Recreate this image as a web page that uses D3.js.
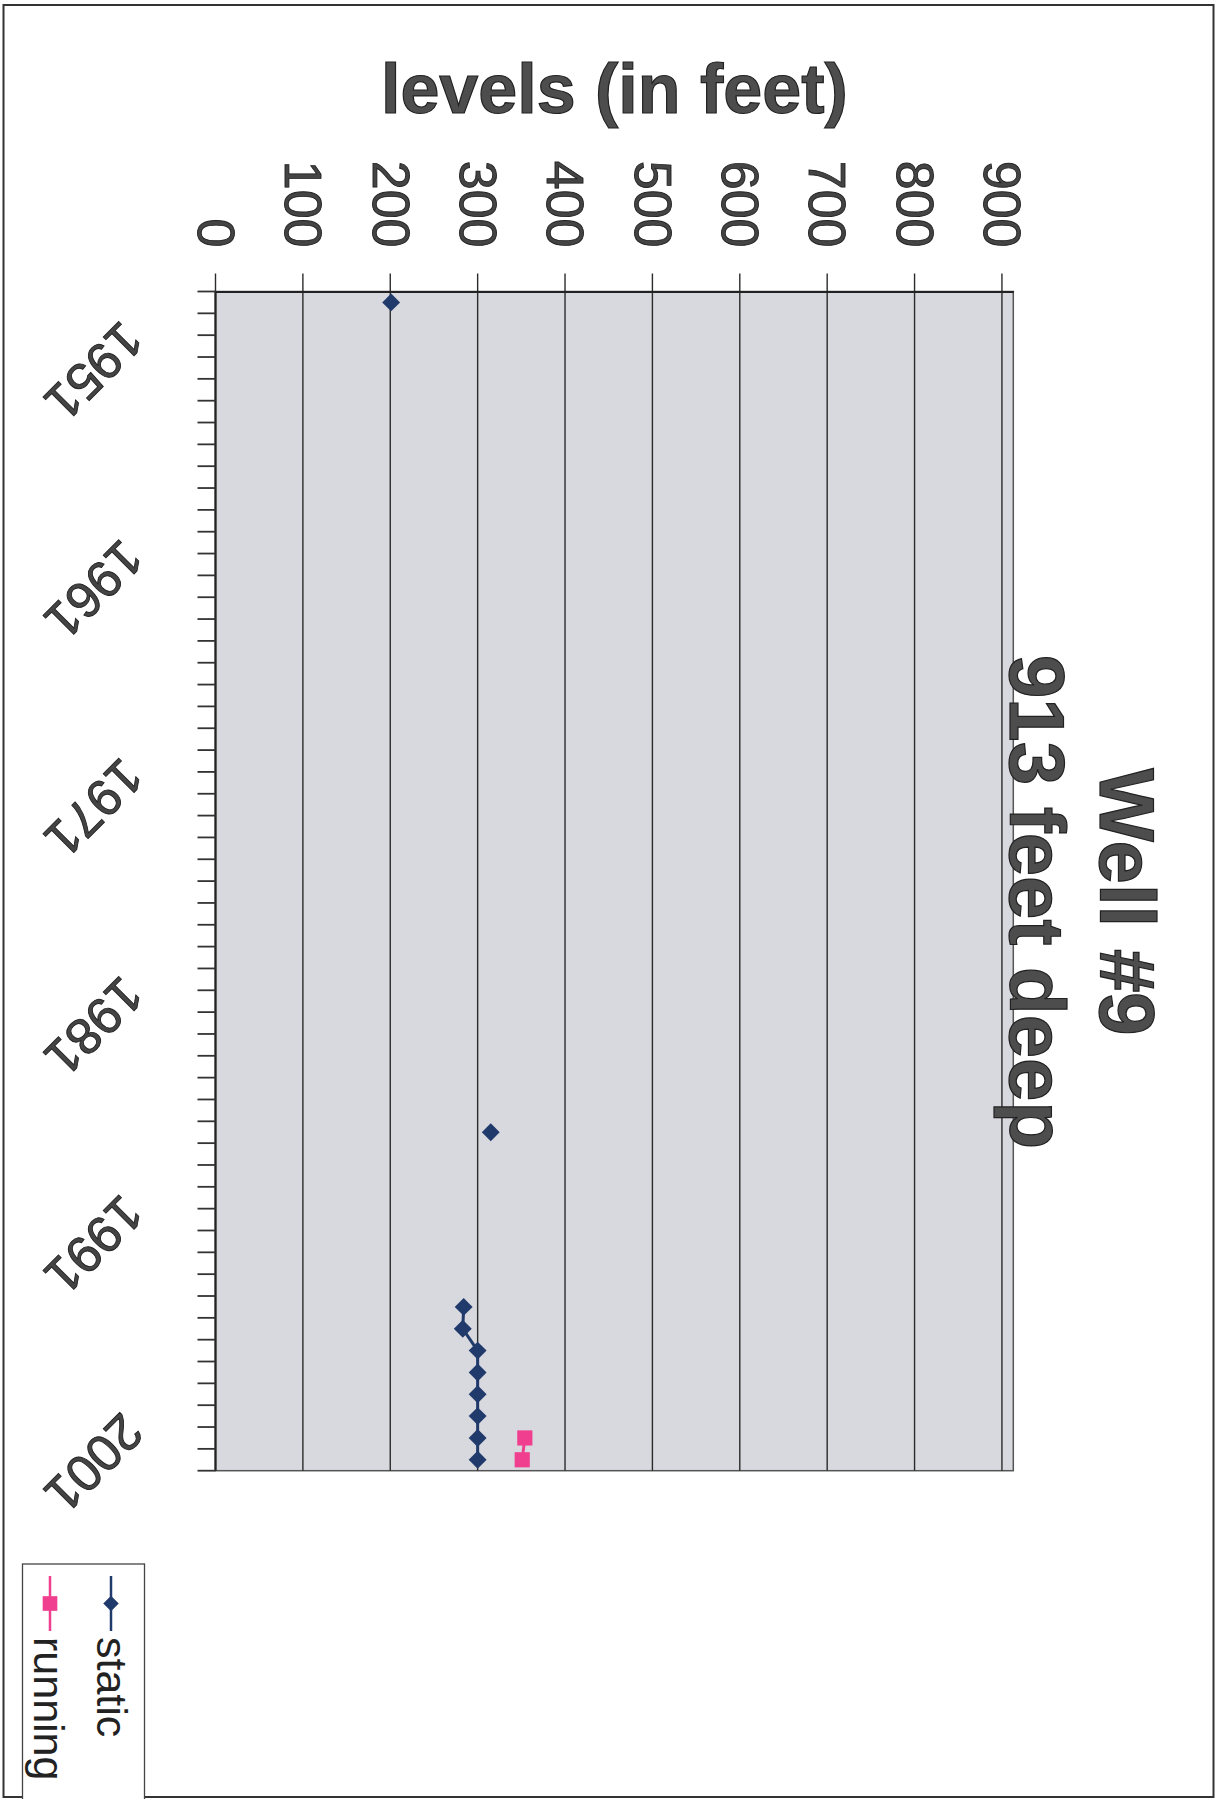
<!DOCTYPE html>
<html>
<head>
<meta charset="utf-8">
<script src="https://cdn.jsdelivr.net/npm/d3@7"></script>
<style>
  body { margin: 0; background: #fff; }
  svg { display: block; font-family: "Liberation Sans", Arial, sans-serif; }
</style>
</head>
<body>
<svg id="page" width="1221" height="1799"></svg>
<script>
// the scanned page is turned a quarter turn: years run down, levels run across

let years = d3.range(1951, 2005)
let yearLabels = [1951, 1961, 1971, 1981, 1991, 2001]
let levelTicks = [0, 100, 200, 300, 400, 500, 600, 700, 800, 900]

let staticYears = [1951, 1989, 1997, 1998, 1999, 2000, 2001, 2002, 2003, 2004]
let staticLevels = [201, 315, 284, 283, 300, 300, 300, 300, 300, 300]

let runningYears = [2003, 2004]
let runningLevels = [354, 351]

let titleLines = ["Well #9", "913 feet deep"]
let axisTitle = "levels (in feet)"
let legendNames = ["static", "running"]

let navy = "#213a6c"
let pink = "#ef3f8e"

let svg = d3.select("#page")

let plot = { left: 215.5, right: 1013.3, top: 291.5, bottom: 1470.7 }

let y = d3.scaleBand()
    .domain(years)
    .range([plot.top, plot.bottom])

let x = d3.scaleLinear()
    .domain([0, 913])
    .range([plot.left, plot.right])

function mid(yr) { return y(yr) + y.bandwidth() / 2 }

function fullSeries(yrs, vals) {
    let m = {}
    yrs.forEach((yr, i) => { m[yr] = vals[i] })
    return years.map(yr => ({ year: yr, value: m[yr] === undefined ? null : m[yr] }))
}

// page border
svg.append("rect")
    .attr("x", 3.5).attr("y", 5)
    .attr("width", 1210).attr("height", 1792)
    .attr("fill", "none")
    .attr("stroke", "#333")
    .attr("stroke-width", 2)

// plot area
svg.append("rect")
    .attr("x", plot.left).attr("y", plot.top)
    .attr("width", plot.right - plot.left)
    .attr("height", plot.bottom - plot.top)
    .attr("fill", "#d8d9de")
    .attr("stroke", "#555")
    .attr("stroke-width", 1.5)

// gridlines (they run on past the plot top as tick marks)
svg.selectAll("line.grid")
    .data(levelTicks)
    .enter().append("line")
    .classed("grid", true)
    .attr("x1", d => x(d)).attr("x2", d => x(d))
    .attr("y1", plot.top - 18).attr("y2", plot.bottom)
    .attr("stroke", "#2b2b2b")
    .attr("stroke-width", 1.4)

// level axis
let levelAxis = svg.append("g")
    .attr("transform", `translate(0,${plot.top})`)
    .call(d3.axisTop(x).tickValues(levelTicks).tickSize(0).tickFormat(d3.format("d")))

levelAxis.select(".domain")
    .attr("stroke", "#222")
    .attr("stroke-width", 2)

levelAxis.selectAll("text")
    .attr("x", 0).attr("y", 0)
    .attr("dy", "0.35em")
    .attr("transform", "translate(0,-44) rotate(90)")
    .attr("text-anchor", "end")
    .attr("font-size", 52)
    .attr("fill", "#444")
    .attr("stroke", "#222")
    .attr("stroke-width", 0.9)

// year axis line and ticks on category edges
svg.append("line")
    .attr("x1", plot.left).attr("x2", plot.left)
    .attr("y1", plot.top).attr("y2", plot.bottom)
    .attr("stroke", "#222")
    .attr("stroke-width", 2)

let edges = years.map(yr => y(yr)).concat([plot.bottom])
svg.selectAll("line.ytick")
    .data(edges)
    .enter().append("line")
    .classed("ytick", true)
    .attr("x1", plot.left - 18).attr("x2", plot.left)
    .attr("y1", d => d).attr("y2", d => d)
    .attr("stroke", "#333")
    .attr("stroke-width", 1.8)

// year labels run diagonally, first digit nearest the axis
svg.selectAll("text.year")
    .data(yearLabels)
    .enter().append("text")
    .classed("year", true)
    .attr("x", 94)
    .attr("y", d => mid(d) + 69)
    .attr("transform", d => `rotate(135 94 ${mid(d) + 69})`)
    .attr("text-anchor", "middle")
    .attr("dy", "0.35em")
    .attr("font-size", 51)
    .attr("fill", "#444")
    .attr("stroke", "#222")
    .attr("stroke-width", 0.9)
    .text(d => d)

// series
let line = d3.line()
    .defined(d => d.value !== null)
    .x(d => x(d.value))
    .y(d => mid(d.year))

let staticData = fullSeries(staticYears, staticLevels)
let runningData = fullSeries(runningYears, runningLevels)

svg.append("path")
    .datum(staticData)
    .attr("d", line)
    .attr("fill", "none")
    .attr("stroke", navy)
    .attr("stroke-width", 3)

svg.append("path")
    .datum(runningData)
    .attr("d", line)
    .attr("fill", "none")
    .attr("stroke", pink)
    .attr("stroke-width", 3)

let diamond = d3.symbol(d3.symbolSquare, 160)
let square = d3.symbol(d3.symbolSquare, 230)

svg.selectAll("path.static")
    .data(staticData.filter(d => d.value !== null))
    .enter().append("path")
    .classed("static", true)
    .attr("d", diamond)
    .attr("transform", d => `translate(${x(d.value)},${mid(d.year)}) rotate(45)`)
    .attr("fill", navy)

svg.selectAll("path.running")
    .data(runningData.filter(d => d.value !== null))
    .enter().append("path")
    .classed("running", true)
    .attr("d", square)
    .attr("transform", d => `translate(${x(d.value)},${mid(d.year)})`)
    .attr("fill", pink)

// axis title
svg.append("text")
    .attr("x", (plot.left + plot.right) / 2)
    .attr("y", 113)
    .attr("text-anchor", "middle")
    .attr("font-size", 70)
    .attr("font-weight", "bold")
    .attr("fill", "#4d4d4d")
    .attr("stroke", "#222")
    .attr("stroke-width", 1.2)
    .text(axisTitle)

// chart title, over the plot edge as in the scan
let titlePos = [[1100, 902], [1010, 902]]
svg.selectAll("text.title")
    .data(titleLines)
    .enter().append("text")
    .classed("title", true)
    .attr("transform", (d, i) => `translate(${titlePos[i][0]},${titlePos[i][1]}) rotate(90)`)
    .attr("text-anchor", "middle")
    .attr("font-size", 78)
    .attr("font-weight", "bold")
    .attr("fill", "#4d4d4d")
    .attr("stroke", "#222")
    .attr("stroke-width", 1.2)
    .text(d => d)

// legend, cut off by the page bottom
let legend = svg.append("g")
legend.append("rect")
    .attr("x", 22.5).attr("y", 1564)
    .attr("width", 122).attr("height", 300)
    .attr("fill", "#fff")
    .attr("stroke", "#444")
    .attr("stroke-width", 1.3)

let legendRows = [
    { name: legendNames[0], cx: 111, color: navy, sym: d3.symbol(d3.symbolSquare, 120), rot: 45, base: 97 },
    { name: legendNames[1], cx: 50, color: pink, sym: d3.symbol(d3.symbolSquare, 215), rot: 0, base: 34 }
]

legendRows.forEach(r => {
    legend.append("line")
        .attr("x1", r.cx).attr("x2", r.cx)
        .attr("y1", 1576).attr("y2", 1631)
        .attr("stroke", r.color)
        .attr("stroke-width", 2.5)
    legend.append("path")
        .attr("d", r.sym)
        .attr("transform", `translate(${r.cx},1603.5) rotate(${r.rot})`)
        .attr("fill", r.color)
    legend.append("text")
        .attr("transform", `translate(${r.base},1637) rotate(90)`)
        .attr("font-size", 43)
        .attr("fill", "#222")
        .text(r.name)
})
</script>
</body>
</html>
